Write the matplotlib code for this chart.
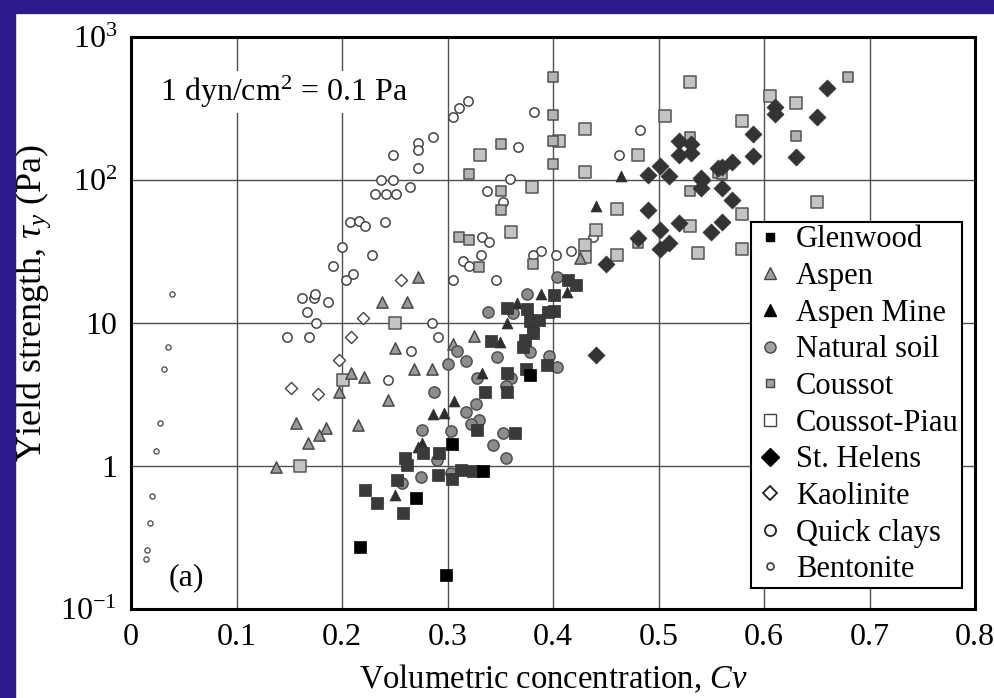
import matplotlib
matplotlib.use("Agg")
import matplotlib.pyplot as plt
from matplotlib.lines import Line2D
from matplotlib.patches import Rectangle

plt.rcParams['font.family'] = ['Liberation Serif', 'DejaVu Serif']
plt.rcParams['mathtext.fontset'] = 'custom'
plt.rcParams['mathtext.rm'] = 'Liberation Serif'
plt.rcParams['mathtext.it'] = 'Liberation Serif:italic'
plt.rcParams['mathtext.fallback'] = 'stix'

# volumetric concentration Cv / yield strength (Pa)
glenwood_cv = [0.414, 0.422, 0.401, 0.356, 0.375, 0.401, 0.395, 0.378, 0.387, 0.381,
               0.341, 0.373, 0.372, 0.356, 0.374, 0.394, 0.336, 0.356, 0.364, 0.328,
               0.277, 0.292, 0.260, 0.262, 0.291, 0.313, 0.324, 0.304, 0.258, 0.222,
               0.233, 0.252]
glenwood_ty = [20, 18.4, 15.7, 12.7, 12.5, 12.1, 11.9, 10.3, 10.5, 8.5,
               7.5, 7.6, 6.8, 4.5, 4.8, 5.1, 3.3, 3.3, 1.70, 1.79,
               1.23, 1.23, 1.14, 1.02, 0.86, 0.94, 0.92, 0.81, 0.47, 0.68,
               0.55, 0.80]
glenwood_blk_cv = [0.378, 0.304, 0.334, 0.270, 0.217, 0.299]
glenwood_blk_ty = [4.3, 1.43, 0.93, 0.60, 0.27, 0.173]

aspen_cv = [0.272, 0.238, 0.262, 0.250, 0.268, 0.209, 0.221, 0.244, 0.197, 0.156,
            0.185, 0.178, 0.168, 0.215, 0.137, 0.285, 0.325, 0.305, 0.426]
aspen_ty = [21, 14, 14, 6.7, 4.8, 4.5, 4.2, 2.9, 3.3, 2.0,
            1.85, 1.65, 1.45, 1.95, 0.98, 4.8, 8.1, 7.1, 28.5]

mine_cv = [0.389, 0.413, 0.366, 0.356, 0.350, 0.333, 0.306, 0.297, 0.286, 0.276,
           0.250, 0.272, 0.464, 0.441]
mine_ty = [16, 16.5, 13.8, 10, 7.4, 4.5, 2.85, 2.35, 2.3, 1.45,
           0.63, 1.36, 107, 66]

soil_cv = [0.404, 0.375, 0.338, 0.362, 0.381, 0.309, 0.347, 0.378, 0.396, 0.404,
           0.300, 0.318, 0.328, 0.360, 0.355, 0.287, 0.327, 0.318, 0.330, 0.322,
           0.276, 0.303, 0.353, 0.343, 0.355, 0.290, 0.303, 0.275, 0.257]
soil_ty = [21, 16, 12, 11.7, 8.9, 6.4, 5.8, 6.3, 5.9, 4.9,
           5.2, 5.4, 4.1, 4.1, 3.6, 3.3, 2.7, 2.4, 2.1, 1.97,
           1.79, 1.77, 1.70, 1.40, 1.14, 1.10, 0.89, 0.84, 0.76]

coussot_cv = [0.400, 0.400, 0.400, 0.400, 0.351, 0.320, 0.351, 0.351, 0.311, 0.320,
              0.330, 0.381, 0.530, 0.530, 0.481, 0.556, 0.680, 0.630, 0.560]
coussot_ty = [525, 285, 187, 129, 178, 110, 84, 62, 40, 38,
              24.6, 26, 200, 84, 36, 112, 525, 203, 110]

piau_cv = [0.331, 0.430, 0.430, 0.406, 0.380, 0.360, 0.461, 0.461, 0.530, 0.481,
           0.506, 0.250, 0.201, 0.160, 0.630, 0.606, 0.579, 0.650, 0.579, 0.579,
           0.537, 0.530, 0.441, 0.430, 0.430]
piau_ty = [150, 227, 114, 187, 89, 43, 63, 30, 485, 150,
           280, 10, 4.0, 1.0, 345, 387, 259, 70, 58, 33,
           31, 48, 45, 35, 29]

helens_cv = [0.519, 0.531, 0.519, 0.531, 0.501, 0.490, 0.510, 0.540, 0.540, 0.556,
             0.490, 0.501, 0.519, 0.550, 0.481, 0.501, 0.510, 0.450, 0.660, 0.650,
             0.610, 0.610, 0.590, 0.590, 0.630, 0.570, 0.560, 0.541, 0.560, 0.570,
             0.560, 0.441]
helens_ty = [187, 179, 150, 155, 125, 108, 107, 103, 88, 121,
             62, 45, 50, 43, 39, 33, 36, 26, 440, 276,
             325, 290, 210, 147, 145, 134, 123, 100, 88, 72,
             51, 6.0]

kaolin_cv = [0.256, 0.220, 0.209, 0.197, 0.152, 0.177]
kaolin_ty = [20, 10.8, 8, 5.5, 3.5, 3.2]

quick_cv = [0.248, 0.237, 0.248, 0.231, 0.242, 0.251, 0.264, 0.272, 0.272, 0.272,
            0.208, 0.216, 0.222, 0.241, 0.200, 0.228, 0.191, 0.305, 0.311, 0.319,
            0.286, 0.382, 0.367, 0.359, 0.337, 0.353, 0.333, 0.339, 0.332, 0.315,
            0.320, 0.389, 0.381, 0.403, 0.417, 0.438, 0.463, 0.482, 0.210, 0.204,
            0.162, 0.173, 0.174, 0.187, 0.167, 0.175, 0.148, 0.169, 0.265, 0.244,
            0.305, 0.346, 0.285, 0.291]
quick_ty = [150, 100, 100, 80, 80, 80, 89, 182, 162, 121,
            51, 52, 48, 51, 34, 30, 25, 276, 318, 356,
            200, 299, 170, 102, 84, 70, 40, 37, 30, 27,
            25, 32, 30, 30, 32, 40, 150, 224, 22, 20,
            15, 15, 16, 14, 12, 10, 8, 8, 6.4, 4.0,
            20, 20, 10, 8]

bento_cv = [0.039, 0.035, 0.031, 0.0275, 0.024, 0.020, 0.018, 0.015, 0.014]
bento_ty = [16, 6.8, 4.8, 2.0, 1.27, 0.62, 0.40, 0.26, 0.224]

fig = plt.figure(figsize=(9.94, 6.98), dpi=100)
fig.patches.append(Rectangle((0, 0), 15 / 994, 1, transform=fig.transFigure,
                             color='#2b1b8f', zorder=0))
fig.patches.append(Rectangle((0, 1 - 13 / 698), 1, 13 / 698, transform=fig.transFigure,
                             color='#2b1b8f', zorder=0))
ax = fig.add_axes([131 / 994, 1 - 609 / 698, 844 / 994, 572 / 698])

ax.scatter(bento_cv, bento_ty, s=14, marker='o', facecolor='white', edgecolor='#555555', linewidth=1.0, zorder=3)
ax.scatter(quick_cv, quick_ty, s=45, marker='o', facecolor='white', edgecolor='#444444', linewidth=1.1, zorder=3)
ax.scatter(kaolin_cv, kaolin_ty, s=38, marker='D', facecolor='white', edgecolor='#444444', linewidth=1.0, zorder=3)
ax.scatter(piau_cv, piau_ty, s=72, marker='s', facecolor='#c4c4c4', edgecolor='#555555', linewidth=1.1, zorder=3)
ax.scatter(coussot_cv, coussot_ty, s=62, marker='s', facecolor='#b4b4b4', edgecolor='#505050', linewidth=1.1, zorder=3)
ax.scatter(aspen_cv, aspen_ty, s=65, marker='^', facecolor='#9a9a9a', edgecolor='#4a4a4a', linewidth=1.1, zorder=4)
ax.scatter(helens_cv, helens_ty, s=75, marker='D', facecolor='#333333', edgecolor='#333333', linewidth=0.5, zorder=4)
ax.scatter(soil_cv, soil_ty, s=65, marker='o', facecolor='#8c8c8c', edgecolor='#505050', linewidth=1.1, zorder=4)
ax.scatter(mine_cv, mine_ty, s=62, marker='^', facecolor='#2e2e2e', edgecolor='#2e2e2e', linewidth=0.5, zorder=5)
ax.scatter(glenwood_cv, glenwood_ty, s=80, marker='s', facecolor='#3a3a3a', edgecolor='#333333', linewidth=0.5, zorder=5)
ax.scatter(glenwood_blk_cv, glenwood_blk_ty, s=80, marker='s', facecolor='black', edgecolor='black', linewidth=0.5, zorder=5)

ax.set_yscale('log')
ax.set_xlim(0, 0.8)
ax.set_ylim(0.1, 1000)
ax.set_xticks([0, 0.1, 0.2, 0.3, 0.4, 0.5, 0.6, 0.7, 0.8])
ax.set_xticklabels(['0', '0.1', '0.2', '0.3', '0.4', '0.5', '0.6', '0.7', '0.8'])
ax.set_yticks([0.1, 1, 10, 100, 1000])
ax.set_yticklabels(['10$^{-1}$', '1', '10', '10$^{2}$', '10$^{3}$'])
ax.minorticks_off()
ax.tick_params(length=0, labelsize=23, pad=10)
ax.grid(True, color='#505050', linewidth=1.0)
ax.set_axisbelow(True)
for sp in ax.spines.values():
    sp.set_linewidth(2.2)

ax.set_xlabel('Volumetric concentration, $Cv$', fontsize=23.5, labelpad=8)
ax.set_ylabel(r'Yield strength, $\tau_y$ (Pa)', fontsize=26)
ax.yaxis.set_label_coords(-0.093, 0.535)

ax.text(0.034, 0.904, '1 dyn/cm$^2$ = 0.1 Pa', transform=ax.transAxes, fontsize=23,
        va='center', ha='left', zorder=6,
        bbox=dict(facecolor='white', edgecolor='none', pad=2))
ax.text(0.066, 0.054, '(a)', transform=ax.transAxes, fontsize=23, va='center', ha='center')

handles = [
    Line2D([], [], ls='none', marker='s', ms=6, mfc='black', mec='black'),
    Line2D([], [], ls='none', marker='^', ms=8, mfc='#a0a0a0', mec='#444444'),
    Line2D([], [], ls='none', marker='^', ms=8, mfc='black', mec='black'),
    Line2D([], [], ls='none', marker='o', ms=8, mfc='#a0a0a0', mec='#444444'),
    Line2D([], [], ls='none', marker='s', ms=6, mfc='#a0a0a0', mec='#444444'),
    Line2D([], [], ls='none', marker='s', ms=8, mfc='white', mec='#444444'),
    Line2D([], [], ls='none', marker='D', ms=9, mfc='black', mec='black'),
    Line2D([], [], ls='none', marker='D', ms=7, mfc='white', mec='#222222', mew=1.3),
    Line2D([], [], ls='none', marker='o', ms=8, mfc='white', mec='#222222', mew=1.3),
    Line2D([], [], ls='none', marker='o', ms=5, mfc='white', mec='#444444', mew=1.3),
]
labels = ['Glenwood', 'Aspen', 'Aspen Mine', 'Natural soil', 'Coussot',
          'Coussot-Piau', 'St. Helens', 'Kaolinite', 'Quick clays', 'Bentonite']
leg = ax.legend(handles, labels, loc='lower right', bbox_to_anchor=(0.985, 0.037),
                fontsize=22, fancybox=False, framealpha=1, edgecolor='black',
                borderaxespad=0, labelspacing=0.25, handletextpad=0.34,
                handlelength=1.0, borderpad=0.12)
leg.get_frame().set_linewidth(1.5)
leg.set_zorder(10)

fig.savefig('out.png', dpi=100)
